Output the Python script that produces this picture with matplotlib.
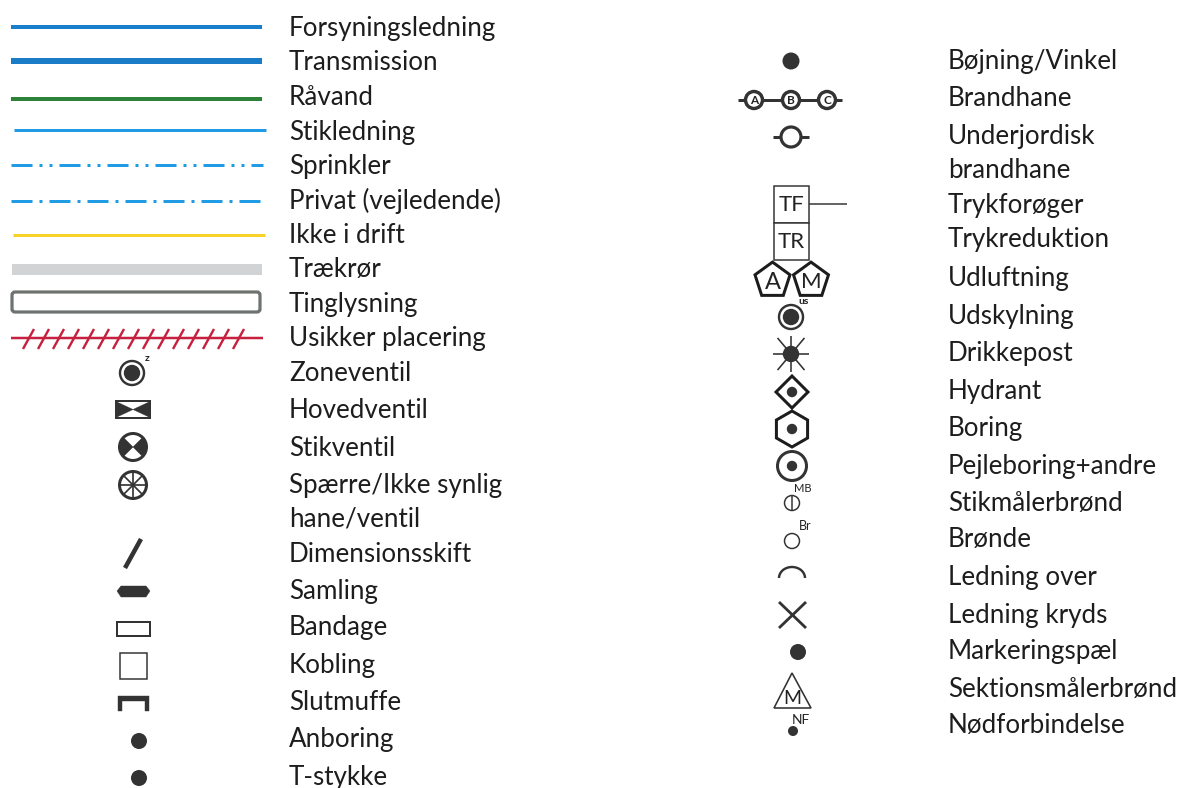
import numpy as np
import matplotlib
matplotlib.use("Agg")
import matplotlib.pyplot as plt
from matplotlib.patches import Circle, Rectangle, Polygon, FancyBboxPatch, Arc

plt.rcParams['font.family'] = ['Lato', 'DejaVu Sans']
plt.rcParams['lines.scale_dashes'] = False

left_labels = ["Forsyningsledning", "Transmission", "Råvand", "Stikledning", "Sprinkler",
               "Privat (vejledende)", "Ikke i drift", "Trækrør", "Tinglysning", "Usikker placering",
               "Zoneventil", "Hovedventil", "Stikventil", "Spærre/Ikke synlig", "hane/ventil",
               "Dimensionsskift", "Samling", "Bandage", "Kobling", "Slutmuffe", "Anboring", "T-stykke"]
left_y = [28, 62, 97, 132, 166, 201, 235, 270, 304, 338, 373, 410, 448, 485, 519, 554, 591, 628, 665, 703, 740, 777]
right_labels = ["Bøjning/Vinkel", "Brandhane", "Underjordisk", "brandhane", "Trykforøger", "Trykreduktion",
                "Udluftning", "Udskylning", "Drikkepost", "Hydrant", "Boring", "Pejleboring+andre",
                "Stikmålerbrønd", "Brønde", "Ledning over", "Ledning kryds", "Markeringspæl",
                "Sektionsmålerbrønd", "Nødforbindelse"]
right_y = [61, 98, 136, 170, 205, 239, 278, 316, 353, 391, 428, 466, 503, 540, 578, 615, 652, 689, 726]

line_y = [27, 61, 99, 130, 165, 200.5, 234.5]
line_x0 = [11, 11, 11, 14, 11, 11, 13]
line_x1 = [262, 262, 262, 266, 263, 260, 265]
line_px = [4, 6, 4, 3, 3, 3, 3]
line_col = ['#1a7fcb', '#1a7cc6', '#2c8238', '#1f9ce4', '#1f9ce4', '#1f9ce4', '#f6d326']
line_dash = [None, None, None, None, (21, 7, 3, 7, 3, 7), (21, 7, 3, 7), None]

DARK = '#333333'
PX = 0.72

fig = plt.figure(figsize=(11.83, 7.88), dpi=100, facecolor='white')
ax = fig.add_axes([0, 0, 1, 1])
ax.set_xlim(0, 1183)
ax.set_ylim(788, 0)
ax.axis('off')


def ln(xs, ys, w=2, c=DARK, **kw):
    ax.plot(xs, ys, color=c, lw=w * PX, solid_capstyle=kw.pop('cap', 'butt'), **kw)


def circ(x, y, r, fill=False, w=2):
    ax.add_patch(Circle((x, y), r, fc=DARK if fill else 'white', ec=DARK, lw=w * PX, zorder=3))


def rect(x0, y0, x1, y1, w=2):
    ax.add_patch(Rectangle((x0, y0), x1 - x0, y1 - y0, fc='white', ec=DARK, lw=w * PX, zorder=3))


def poly(x, y, r, n, rot=-90, w=3):
    a = np.radians(rot + np.arange(n) * 360 / n)
    ax.add_patch(Polygon(np.c_[x + r * np.cos(a), y + r * np.sin(a)], closed=True, fc='white',
                         ec='#1c1c1c', lw=w * PX, zorder=3))


def txt(x, y, s, size, **kw):
    ax.text(x, y, s, fontsize=size, ha=kw.pop('ha', 'center'), va='center', color=kw.pop('color', '#222222'), zorder=5, **kw)


for s, y in zip(left_labels, left_y):
    ax.text(289, y, s, fontsize=18.7, va='center', ha='left', color='#1d1d1d')
for s, y in zip(right_labels, right_y):
    ax.text(948, y, s, fontsize=18.7, va='center', ha='left', color='#1d1d1d')

# coloured lines
for y, x0, x1, p, c, d in zip(line_y, line_x0, line_x1, line_px, line_col, line_dash):
    ls = '-' if d is None else (0, tuple(v * PX for v in d))
    ax.plot([x0, x1], [y, y], color=c, lw=p * PX, ls=ls, solid_capstyle='butt', dash_capstyle='butt')

ax.add_patch(Rectangle((12, 264), 250, 11, fc='#d2d3d5', ec='none'))
ax.add_patch(FancyBboxPatch((12, 292), 248, 20, boxstyle='round,pad=0,rounding_size=3', fc='white', ec='#6f7370', lw=3.2 * PX))

# uncertain placement
RED = '#c7203f'
ln([11, 263], [338, 338], 2.5, RED)
for x in 23 + 15 * np.arange(15):
    ln([x, x + 11], [349, 329], 2.4, RED)

# left symbols
circ(132, 373, 12, w=2.4); circ(132, 373, 7.2, True)
txt(147, 358, 'z', 7.5, fontweight='bold')
rect(116, 401, 150, 418)
ax.add_patch(Polygon([(117, 402), (133, 409.5), (117, 417)], fc=DARK, ec=DARK, lw=0.3, zorder=4))
ax.add_patch(Polygon([(149, 402), (133, 409.5), (149, 417)], fc=DARK, ec=DARK, lw=0.3, zorder=4))

circ(133, 447, 13.5, w=3)
for a0 in (135, -45):
    t = np.radians(np.linspace(a0, a0 + 90, 20))
    pts = np.r_[[[133, 447]], np.c_[133 + 13.5 * np.cos(t), 447 + 13.5 * np.sin(t)]]
    ax.add_patch(Polygon(pts, fc=DARK, ec=DARK, lw=0.3, zorder=4))

circ(133, 485, 13.5, w=3)
for a in np.radians(np.arange(0, 180, 45)):
    ln([133 - 13 * np.cos(a), 133 + 13 * np.cos(a)], [485 - 13 * np.sin(a), 485 + 13 * np.sin(a)], 1.7, zorder=4)

ln([125, 141], [568, 539], 4.5)
ax.add_patch(Polygon([(117, 591), (121, 586), (146, 586), (150, 591), (146, 597), (121, 597)], fc=DARK, ec=DARK, lw=0.3))
rect(117, 622, 150, 636)
rect(120, 653, 147, 679, 1.5)
ax.add_patch(Polygon([(118, 696), (149, 696), (149, 711), (145, 711), (145, 701), (122, 701), (122, 711), (118, 711)], fc=DARK, ec=DARK, lw=0.3))
circ(139, 741, 7, True)
circ(139, 778, 7, True)

# right symbols
circ(791, 61, 7.5, True)
ln([738, 842], [100, 100], 3)
for x, s in zip([754, 791, 827], 'ABC'):
    circ(x, 100, 8.5, w=3.4)
    txt(x, 100, s, 8.5, fontweight='bold')
ln([773, 809], [137, 137], 3)
circ(791, 137, 10, w=3.2)

rect(774, 186, 809, 223, 1.5)
rect(774, 223, 809, 260, 1.5)
ln([809, 847], [204, 204], 1.5)
txt(791.5, 205, 'TF', 16)
txt(791.5, 242, 'TR', 16)

poly(772.5, 280.5, 18.4, 5)
poly(811, 280.5, 18.4, 5)
txt(772.5, 282, 'A', 17)
txt(811, 282, 'M', 16)

txt(804, 301, 'us', 7.5, fontweight='bold')
circ(791, 317, 12, w=2.4); circ(791, 317, 7.2, True)

for a, r in zip(np.radians([0, 90, 50, 130]), [18, 18, 21, 21]):
    ln([791 - r * np.cos(a), 791 + r * np.cos(a)], [354 - r * np.sin(a), 354 + r * np.sin(a)], 1.6, zorder=4)
circ(791, 354, 7.2, True)

poly(792, 392, 16, 4, rot=0)
circ(792, 392, 4.2, True)
poly(792, 429, 18, 6, rot=-90)
circ(792, 429, 4.2, True)
circ(792, 466, 14.5, w=3)
circ(792, 466, 4.2, True)

circ(792, 503, 7.5, w=1.5)
ln([792, 792], [495.5, 510.5], 1.5, zorder=4)
txt(803, 488, 'MB', 8)
circ(792, 541, 7.5, w=1.5)
txt(805, 526, 'Br', 9)

ax.add_patch(Arc((792, 578), 26, 22, theta1=180, theta2=360, lw=2.4 * PX, ec=DARK))
ln([779, 806], [602, 628], 2.8)
ln([806, 779], [602, 628], 2.8)
circ(798, 652, 7, True)

ax.add_patch(Polygon([(792, 673), (811, 708), (774, 708)], closed=True, fc='white', ec=DARK, lw=1.6 * PX))
txt(792, 698, 'M', 14)
txt(801, 720, 'NF', 10)
circ(793, 731, 4, True)

fig.savefig('out.png', dpi=100, facecolor='white')
